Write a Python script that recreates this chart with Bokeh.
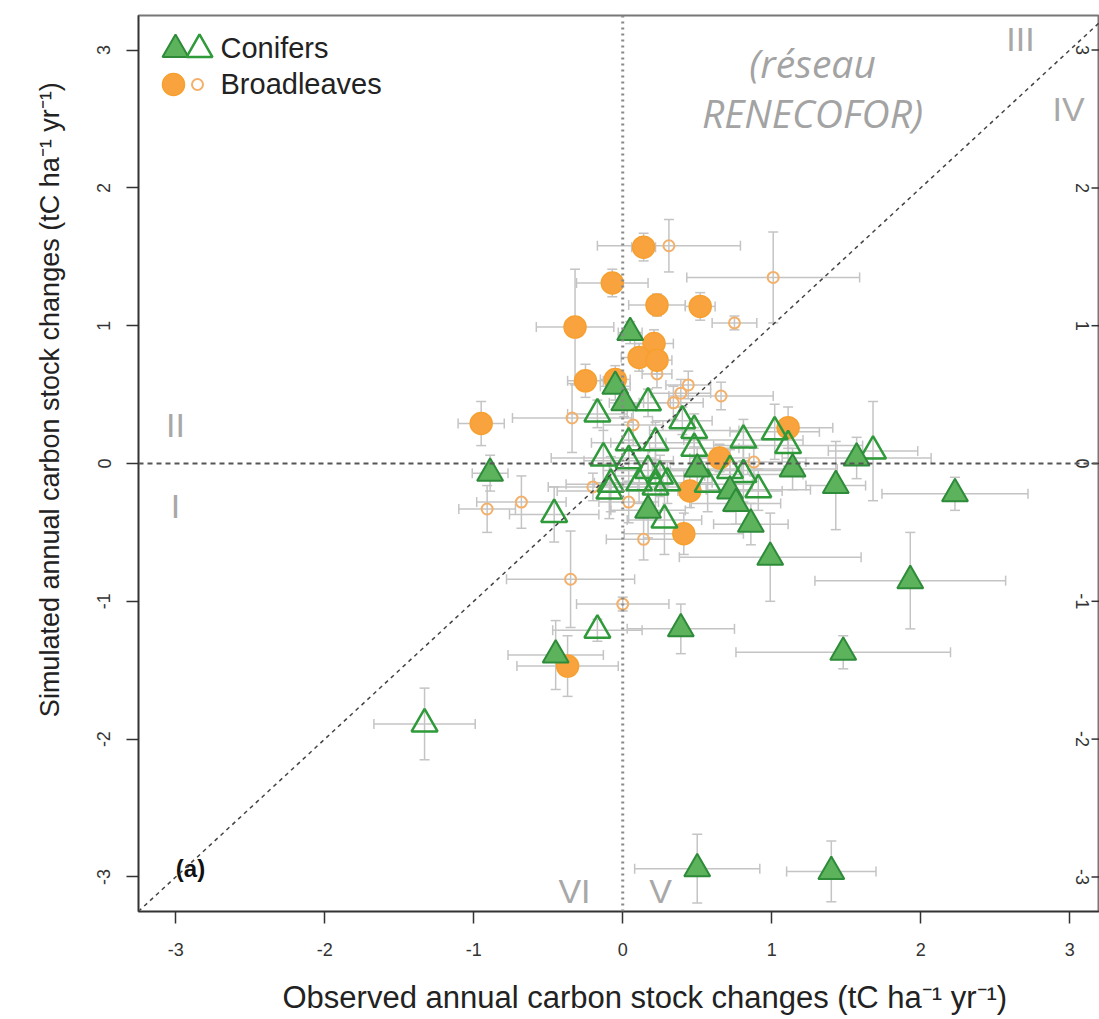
import math
from bokeh.plotting import figure
from bokeh.models import ColumnDataSource, Whisker, TeeHead, Span, Slope, FixedTicker, Range1d
from bokeh.core.properties import value
from bokeh.embed import file_html
from bokeh.resources import INLINE

# ---------------- data ----------------
# Conifers, filled triangles
cf_x = [0.05, -0.05, 0.01, -0.89, 0.50, 0.72, 0.76, 0.86, 1.14, 1.43, 1.57, 2.23, 0.99, 1.93, 1.48, 0.39, -0.45, 0.50, 1.40, 0.17]
cf_y = [0.95, 0.56, 0.44, -0.07, -0.04, -0.20, -0.29, -0.44, -0.04, -0.16, 0.04, -0.22, -0.68, -0.85, -1.37, -1.20, -1.39, -2.94, -2.96, -0.34]
cf_xe = [0.08, 0.10, 0.10, 0.12, 0.30, 0.35, 0.30, 0.25, 0.30, 0.20, 0.50, 0.49, 0.61, 0.64, 0.72, 0.36, 0.32, 0.42, 0.30, 0.25]
cf_ye = [0.08, 0.10, 0.10, 0.13, 0.15, 0.15, 0.15, 0.15, 0.15, 0.32, 0.15, 0.12, 0.32, 0.35, 0.12, 0.18, 0.25, 0.25, 0.22, 0.20]

# Conifers, open triangles
co_x = [-0.17, 0.17, 0.04, 0.22, 0.40, 0.48, 0.48, -0.13, 0.04, 0.17, 0.25, -0.08, -0.09, 0.11, 0.22, 0.30, 0.28, -0.46, 0.81, 0.72, 0.81, 0.91, 0.57, 1.02, 1.11, 1.68, -0.17, -1.33]
co_y = [0.36, 0.44, 0.15, 0.15, 0.31, 0.24, 0.11, 0.04, 0.02, -0.05, -0.09, -0.15, -0.20, -0.14, -0.17, -0.14, -0.41, -0.37, 0.17, -0.05, -0.08, -0.19, -0.15, 0.23, 0.13, 0.09, -1.21, -1.89]
co_xe = [0.20, 0.15, 0.25, 0.30, 0.20, 0.30, 0.30, 0.35, 0.30, 0.30, 0.30, 0.30, 0.35, 0.30, 0.30, 0.30, 0.25, 0.30, 0.40, 0.40, 0.40, 0.35, 0.30, 0.30, 0.50, 0.30, 0.30, 0.34]
co_ye = [0.10, 0.10, 0.15, 0.15, 0.10, 0.12, 0.15, 0.20, 0.15, 0.15, 0.15, 0.20, 0.20, 0.15, 0.20, 0.15, 0.25, 0.20, 0.15, 0.15, 0.20, 0.15, 0.20, 0.20, 0.15, 0.36, 0.08, 0.26]

# Broadleaves, filled circles
bf_x = [0.14, -0.07, 0.23, 0.52, -0.32, 0.21, 0.11, 0.23, -0.25, -0.05, -0.95, 1.11, 0.65, 0.45, 0.41, -0.37]
bf_y = [1.57, 1.31, 1.15, 1.14, 0.99, 0.87, 0.77, 0.75, 0.60, 0.61, 0.29, 0.26, 0.04, -0.20, -0.51, -1.47]
bf_xe = [0.08, 0.24, 0.19, 0.10, 0.26, 0.13, 0.12, 0.10, 0.12, 0.10, 0.155, 0.30, 0.20, 0.30, 0.40, 0.34]
bf_ye = [0.10, 0.10, 0.08, 0.10, 0.42, 0.10, 0.10, 0.10, 0.12, 0.10, 0.16, 0.15, 0.10, 0.12, 0.15, 0.22]

# Broadleaves, small open circles
bo_x = [0.31, 1.01, 0.75, 0.23, 0.44, 0.39, 0.34, 0.66, -0.34, 0.07, 0.88, -0.20, 0.04, 0.14, -0.68, -0.91, -0.35, 0.00]
bo_y = [1.58, 1.35, 1.02, 0.65, 0.57, 0.51, 0.44, 0.49, 0.33, 0.28, 0.01, -0.17, -0.28, -0.55, -0.28, -0.33, -0.84, -1.02]
bo_xe = [0.48, 0.58, 0.15, 0.10, 0.15, 0.20, 0.20, 0.35, 0.40, 0.20, 0.35, 0.30, 0.20, 0.25, 0.30, 0.19, 0.43, 0.31]
bo_ye = [0.19, 0.33, 0.05, 0.10, 0.10, 0.10, 0.12, 0.10, 0.25, 0.15, 0.10, 0.10, 0.15, 0.15, 0.19, 0.17, 0.35, 0.05]

ticks = [-3, -2, -1, 0, 1, 2, 3]
tick_labels = ["-3", "-2", "-1", "0", "1", "2", "3"]
x_title = "Observed annual carbon stock changes (tC ha\u207b\u00b9 yr\u207b\u00b9)"
y_title = "Simulated annual carbon stock changes (tC ha\u207b\u00b9 yr\u207b\u00b9)"
legend_labels = ["Conifers", "Broadleaves"]
network_text = ["(r\u00e9seau", "RENECOFOR)"]

# ---------------- layout ----------------
W, H = 1099, 1019
L, R, T, B = 138, 0, 15, 108
XR = (-3.25, 3.2)
YR = (-3.251, 3.251)


def px2x(px):
    return XR[0] + (px - L) * (XR[1] - XR[0]) / (W - L - R)


def py2y(py):
    return YR[1] - (py - T) * (YR[1] - YR[0]) / (H - T - B)


p = figure(width=W, height=H, x_range=Range1d(*XR), y_range=Range1d(*YR),
           output_backend="svg", toolbar_location=None,
           min_border_left=L, min_border_right=R, min_border_top=T, min_border_bottom=B)
p.grid.visible = False
p.outline_line_color = "#777777"
p.outline_line_width = 2
p.background_fill_color = "white"

overrides = {t: s for t, s in zip(ticks, tick_labels)}
for ax in (p.xaxis, p.yaxis):
    ax.ticker = FixedTicker(ticks=ticks)
    ax.major_label_overrides = overrides
    ax.major_tick_out = 12
    ax.major_tick_in = 0
    ax.minor_tick_out = 0
    ax.minor_tick_in = 0
    ax.axis_line_color = "#333333"
    ax.axis_line_width = 1.5
    ax.major_tick_line_color = "#333333"
    ax.major_tick_line_width = 1.5
    ax.major_label_text_font = "Liberation Sans"
    ax.major_label_text_font_size = "18px"
    ax.major_label_text_color = "#333333"
    ax.axis_label_text_font = "Liberation Sans"
    ax.axis_label_text_font_style = "normal"
    ax.axis_label_text_color = "#222222"

# small leading padding shifts the centred titles like in the original
p.xaxis.axis_label = "\u00a0" * 6 + x_title
p.yaxis.axis_label = "\u00a0" * 17 + y_title
p.xaxis.axis_label_text_font_size = "31px"
p.yaxis.axis_label_text_font_size = "27px"
p.yaxis.major_label_orientation = "vertical"
p.xaxis.major_label_standoff = 19
p.xaxis.axis_label_standoff = 21
p.yaxis.major_label_standoff = 16
p.yaxis.axis_label_standoff = 30

# reference lines
p.add_layout(Span(location=0, dimension="height", line_color="#8a8a8a", line_width=3, line_dash="2 4"))
p.add_layout(Span(location=0, dimension="width", line_color="#555555", line_width=1.8, line_dash="5 4"))
p.add_layout(Slope(gradient=1, y_intercept=0, line_color="#444444", line_width=1.5, line_dash="4 4"))

# error bars
BAR = "#c4c4c4"
groups = [(bo_x, bo_y, bo_xe, bo_ye), (bf_x, bf_y, bf_xe, bf_ye),
          (co_x, co_y, co_xe, co_ye), (cf_x, cf_y, cf_xe, cf_ye)]
sources = []
for gx, gy, gxe, gye in groups:
    src = ColumnDataSource(dict(
        x=gx, y=gy,
        xl=[a - e for a, e in zip(gx, gxe)], xu=[a + e for a, e in zip(gx, gxe)],
        yl=[a - e for a, e in zip(gy, gye)], yu=[a + e for a, e in zip(gy, gye)]))
    sources.append(src)
    for dim, base, lo, up in (("width", "y", "xl", "xu"), ("height", "x", "yl", "yu")):
        w = Whisker(source=src, base=base, lower=lo, upper=up, dimension=dim,
                    line_color=BAR, line_width=1.5,
                    lower_head=TeeHead(size=10, line_color=BAR, line_width=1.5),
                    upper_head=TeeHead(size=10, line_color=BAR, line_width=1.5))
        p.add_layout(w)

src_bo, src_bf, src_co, src_cf = sources

GREEN_FILL = "#5cb35c"
GREEN_LINE = "#2e8b3a"
GREEN_OPEN = "#2f9a3a"
ORANGE_FILL = "#f9a33e"
ORANGE_LINE = "#f7a030"
ORANGE_SMALL = "#f3b06a"

p.scatter("x", "y", source=src_bo, marker="circle", size=11, fill_color=None,
          line_color=ORANGE_SMALL, line_width=2)
p.scatter("x", "y", source=src_bf, marker="circle", size=22, fill_color=ORANGE_FILL,
          line_color=ORANGE_LINE, line_width=1.5)
p.scatter("x", "y", source=src_co, marker="triangle", size=26, fill_color=None,
          line_color=GREEN_OPEN, line_width=2.5)
p.scatter("x", "y", source=src_cf, marker="triangle", size=26, fill_color=GREEN_FILL,
          line_color=GREEN_LINE, line_width=2)

# legend (drawn by hand, top-left)
p.scatter([px2x(175)], [py2y(49)], marker="triangle", size=26, fill_color=GREEN_FILL,
          line_color=GREEN_LINE, line_width=2)
p.scatter([px2x(199)], [py2y(49)], marker="triangle", size=26, fill_color=None,
          line_color=GREEN_OPEN, line_width=2.5)
p.scatter([px2x(173)], [py2y(84)], marker="circle", size=22, fill_color=ORANGE_FILL,
          line_color=ORANGE_LINE, line_width=1.5)
p.scatter([px2x(197)], [py2y(84)], marker="circle", size=11, fill_color=None,
          line_color=ORANGE_SMALL, line_width=2)
p.text([px2x(220), px2x(220)], [py2y(47), py2y(83)], text=legend_labels,
       text_font=value("Liberation Sans"), text_font_size="29px", text_color="#222222",
       text_align="left", text_baseline="middle")

# network label
p.text([px2x(812), px2x(812)], [py2y(62), py2y(112)], text=network_text,
       text_font=value("Open Sans"), text_font_style="italic", text_font_size="39px",
       text_color="#a3a3a3", text_align="center", text_baseline="middle")

# quadrant numerals
quad_labels = ["I", "II", "III", "IV", "V", "VI"]
quad_px = [(175, 505), (175, 424), (1020, 38), (1068, 108), (660, 890), (574, 890)]
p.text([px2x(a) for a, b in quad_px], [py2y(b) for a, b in quad_px], text=quad_labels,
       text_font=value("Liberation Sans"), text_font_size="34px", text_color="#a8a8a8",
       text_align="center", text_baseline="middle")

# panel tag
p.text([px2x(190)], [py2y(868)], text=["(a)"], text_font=value("Liberation Sans"),
       text_font_style="bold", text_font_size="24px", text_color="#111111",
       text_align="center", text_baseline="middle")

# right-hand tick labels and ticks
p.text([px2x(1082)] * len(ticks), ticks, text=tick_labels,
       text_font=value("Liberation Sans"), text_font_size="18px", text_color="#333333",
       angle=-math.pi / 2, text_align="center", text_baseline="middle")
p.ray([XR[1]] * len(ticks), ticks, length=8, angle=math.pi, length_units="screen",
      line_color="#333333", line_width=1.5)

open("out.html", "w").write(file_html(p, INLINE))
